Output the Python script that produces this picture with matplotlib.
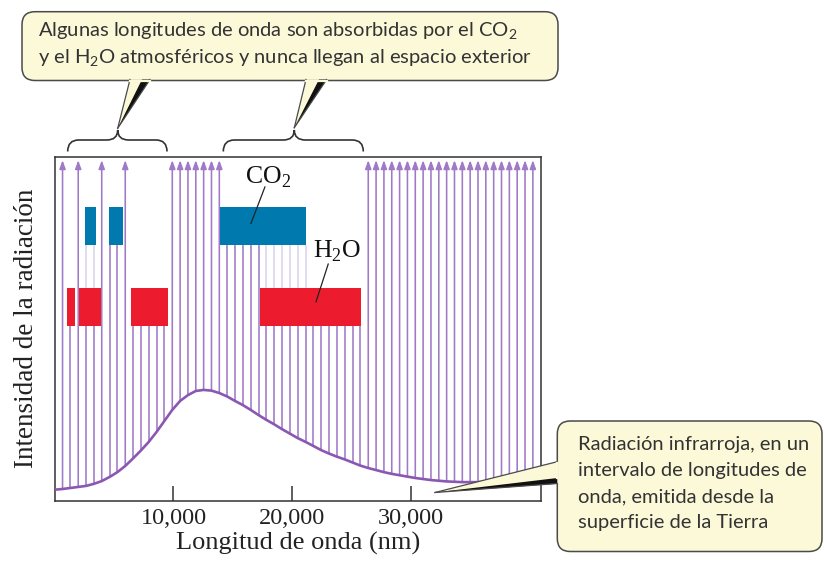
import numpy as np
import matplotlib
matplotlib.use("Agg")
import matplotlib.pyplot as plt
from matplotlib.patches import FancyBboxPatch, Polygon, PathPatch
from matplotlib.path import Path

# ---------------- data ----------------
wavelengths = np.arange(660, 40261, 660)          # nm, one emitted ray each
intensity = [3.4, 3.7, 4.0, 4.3, 4.9, 5.7, 6.9, 8.3, 10.1, 12.3, 14.6, 17.1, 20.0,
             23.2, 26.4, 29.0, 30.7, 31.9, 32.2, 32.0, 31.3, 30.3, 29.0, 27.8, 26.4,
             24.9, 23.5, 22.2, 20.8, 19.5, 18.2, 17.1, 15.9, 14.7, 13.7, 12.8, 12.0,
             11.1, 10.2, 9.5, 8.9, 8.3, 7.8, 7.4, 7.0, 6.6, 6.3, 6.0, 5.8, 5.6, 5.5,
             5.4, 5.4, 5.4, 5.4, 5.4, 5.5, 5.5, 5.5, 5.6, 5.6]
curve_start = (0, 3.2)
curve_end = (40920, 5.6)
co2_bands = [(2550, 3470), (4560, 5740), (13950, 21180)]
h2o_bands = [(1030, 1710), (2040, 3870), (6410, 9520), (17250, 25820)]
co2_level = (74.4, 85.5)
h2o_level = (50.9, 61.8)
arrow_top = 99.0
xticks = [10000, 20000, 30000]
xticklabels = ["10,000", "20,000", "30,000"]

SERIF = "Liberation Serif"
SANS = "Lato"
LINE = "#9f7ac6"
FADED = "#ddd2ea"
CURVE = "#8a57b2"
BLUE = "#0079ae"
RED = "#ec1c2e"
YELLOW = "#fcf9d9"
EDGE = "#4a4a4a"

fig = plt.figure(figsize=(8.24, 5.65), dpi=100)
W, H = 824, 565
ax = fig.add_axes([54.7 / W, (H - 500.7) / H, 486 / W, 344 / H])
ax.set_xlim(0, 40920)
ax.set_ylim(0, 100)

# absorption boxes
for a, b in co2_bands:
    ax.broken_barh([(a, b - a)], (co2_level[0], co2_level[1] - co2_level[0]),
                   facecolor=BLUE, edgecolor="none", zorder=3)
for a, b in h2o_bands:
    ax.broken_barh([(a, b - a)], (h2o_level[0], h2o_level[1] - h2o_level[0]),
                   facecolor=RED, edgecolor="none", zorder=3)

# rays
for x, y0 in zip(wavelengths, intensity):
    in_h = any(a <= x <= b for a, b in h2o_bands)
    in_c = any(a <= x <= b for a, b in co2_bands)
    if in_h:
        ax.plot([x, x], [y0, h2o_level[0]], color=LINE, lw=1.15, zorder=2,
                solid_capstyle="butt")
        if in_c:
            ax.plot([x, x], [h2o_level[1], co2_level[0]], color=FADED, lw=1.15,
                    zorder=2, solid_capstyle="butt")
    elif in_c:
        ax.plot([x, x], [y0, co2_level[0]], color=LINE, lw=1.15, zorder=2,
                solid_capstyle="butt")
    else:
        ax.annotate("", xy=(x, arrow_top), xytext=(x, y0),
                    arrowprops=dict(arrowstyle="-|>,head_length=0.5,head_width=0.18",
                                    color=LINE, lw=1.15, shrinkA=0, shrinkB=0),
                    zorder=2)

cx = [curve_start[0]] + list(wavelengths) + [curve_end[0]]
cy = [curve_start[1]] + list(intensity) + [curve_end[1]]
ax.plot(cx, cy, color=CURVE, lw=1.9, zorder=4, solid_capstyle="round")

# labels on boxes
ax.text(17955, 94.0, "CO$_\\mathregular{2}$", family=SERIF, fontsize=18.5,
        ha="center", va="center", color="#111", zorder=5)
ax.plot([17700, 16525], [91.2, 80.6], color="#222", lw=0.9, zorder=5)
ax.text(23760, 72.6, "H$_\\mathregular{2}$O", family=SERIF, fontsize=18.5,
        ha="center", va="center", color="#111", zorder=5)
ax.plot([23030, 22000], [68.8, 57.8], color="#222", lw=0.9, zorder=5)

for s in ax.spines.values():
    s.set_color("#333")
    s.set_linewidth(1.1)
ax.set_xticks(xticks)
ax.set_xticklabels(xticklabels, family=SERIF, fontsize=17.5, color="#222")
ax.set_yticks([])
ax.tick_params(axis="x", direction="in", length=11, width=1.1, color="#333", pad=5)
ax.set_xlabel("Longitud de onda (nm)", family=SERIF, fontsize=19, color="#222",
              labelpad=2)
ax.set_ylabel("Intensidad de la radiación", family=SERIF, fontsize=19.5,
              color="#222", labelpad=11)

# ---------------- overlay: callouts & braces ----------------
ov = fig.add_axes([0, 0, 1, 1], zorder=10)
ov.set_xlim(0, W)
ov.set_ylim(H, 0)
ov.axis("off")
ov.patch.set_alpha(0)


def callout_box(x0, y0, x1, y1):
    ov.add_patch(FancyBboxPatch((x0, y0), x1 - x0, y1 - y0,
                                boxstyle="round,pad=0,rounding_size=13",
                                facecolor=YELLOW, edgecolor=EDGE, lw=1.1))


def wedge(tip, p1, p2, dark_from):
    ov.add_patch(Polygon([tip, p1, p2], closed=True, facecolor=YELLOW,
                         edgecolor="none"))
    ov.plot([tip[0], p1[0]], [tip[1], p1[1]], color=EDGE, lw=0.9)
    ov.plot([tip[0], p2[0]], [tip[1], p2[1]], color=EDGE, lw=0.9)
    ov.add_patch(Polygon([tip, dark_from, p2], closed=True, facecolor="#111",
                         edgecolor="none"))


def brace(x0, x1, xc, ytop=130, ymid=140, yend=151.5, r=11):
    verts = [(x0, yend), (x0, ymid), (x0 + r, ymid),
             (xc - r, ymid),
             (xc, ymid), (xc, ytop),
             (xc, ymid), (xc + r, ymid),
             (x1 - r, ymid),
             (x1, ymid), (x1, yend)]
    codes = [Path.MOVETO, Path.CURVE3, Path.CURVE3,
             Path.LINETO,
             Path.CURVE3, Path.CURVE3,
             Path.CURVE3, Path.CURVE3,
             Path.LINETO,
             Path.CURVE3, Path.CURVE3]
    ov.add_patch(PathPatch(Path(verts, codes), facecolor="none", edgecolor="#333",
                           lw=1.2))


TXT = dict(family=SANS, fontsize=14.5, color="#333", weight="normal",
           ha="left", va="baseline")

# top callout
callout_box(22, 11.7, 558, 80.5)
wedge((117.7, 128.3), (130, 79.5), (150, 79.5), (142, 79.5))
wedge((294.3, 127.7), (306, 79.5), (326.7, 79.5), (319, 79.5))
ov.plot([130, 150], [80.5, 80.5], color=YELLOW, lw=1.6)
ov.plot([306, 326.7], [80.5, 80.5], color=YELLOW, lw=1.6)
ov.text(38, 37, "Algunas longitudes de onda son absorbidas por el CO$_\\mathregular{2}$", **TXT)
ov.text(38, 63.5, "y el H$_\\mathregular{2}$O atmosféricos y nunca llegan al espacio exterior", **TXT)
brace(67.7, 167, 117.7)
brace(223.3, 363.3, 294.3)

# bottom-right callout
callout_box(557.3, 421, 822, 551.5)
ov.add_patch(Polygon([(435, 492.5), (558.5, 461.7), (558.5, 483.5)], closed=True,
                     facecolor=YELLOW, edgecolor="none"))
ov.plot([435, 557.3], [492.5, 461.7], color=EDGE, lw=0.9)
ov.plot([435, 557.3], [492.5, 483.5], color=EDGE, lw=0.9)
ov.add_patch(Polygon([(435, 492.5), (557.3, 478), (557.3, 483.8)], closed=True,
                     facecolor="#111", edgecolor="none"))
ov.plot([557.3, 557.3], [462.5, 477.5], color=YELLOW, lw=1.6)
for i, line in enumerate(["Radiación infrarroja, en un",
                          "intervalo de longitudes de",
                          "onda, emitida desde la",
                          "superficie de la Tierra"]):
    ov.text(578, 450 + 26 * i, line, **TXT)

fig.savefig("out.png", dpi=100)
